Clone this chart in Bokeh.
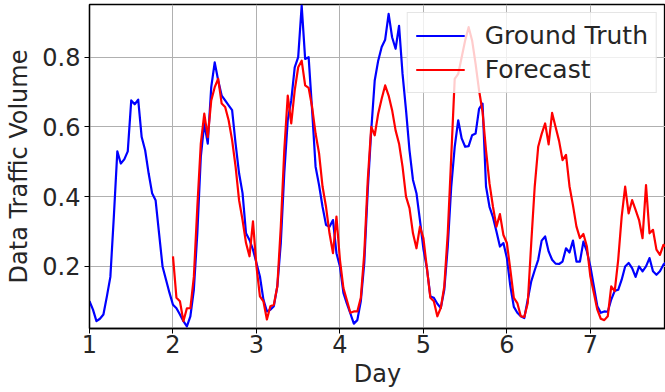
import numpy as np
from bokeh.plotting import figure
from bokeh.models import Range1d, FixedTicker, Legend, LegendItem, ColumnDataSource
from bokeh.embed import file_html
from bokeh.resources import INLINE

# Hourly samples, Ground Truth starts at day 1, Forecast at day 2
blue_day1 = [0.100, 0.076, 0.043, 0.050, 0.062, 0.114, 0.170, 0.343, 0.530, 0.495, 0.507, 0.530,
             0.676, 0.665, 0.678, 0.571, 0.533, 0.467, 0.410, 0.390, 0.295, 0.200, 0.162, 0.124]
blue_day2 = [0.090, 0.080, 0.062, 0.043, 0.028, 0.057, 0.133, 0.295, 0.514, 0.610, 0.552, 0.714,
             0.785, 0.733, 0.690, 0.676, 0.662, 0.648, 0.552, 0.467, 0.410, 0.295, 0.276, 0.248]
blue_day3 = [0.210, 0.171, 0.105, 0.071, 0.076, 0.086, 0.143, 0.267, 0.467, 0.620, 0.676, 0.771,
             0.800, 0.948, 0.795, 0.800, 0.648, 0.486, 0.433, 0.371, 0.319, 0.314, 0.333, 0.238]
blue_day4 = [0.200, 0.124, 0.093, 0.065, 0.036, 0.046, 0.100, 0.210, 0.419, 0.590, 0.733, 0.790,
             0.829, 0.850, 0.924, 0.857, 0.824, 0.890, 0.752, 0.648, 0.533, 0.448, 0.410, 0.333]
blue_day5 = [0.250, 0.195, 0.114, 0.110, 0.093, 0.081, 0.133, 0.257, 0.429, 0.543, 0.619, 0.567,
             0.543, 0.545, 0.576, 0.581, 0.652, 0.667, 0.429, 0.371, 0.341, 0.300, 0.257, 0.267]
blue_day6 = [0.224, 0.143, 0.084, 0.067, 0.057, 0.052, 0.105, 0.157, 0.189, 0.219, 0.274, 0.286,
             0.243, 0.219, 0.208, 0.207, 0.214, 0.252, 0.240, 0.274, 0.214, 0.214, 0.271, 0.243]
blue_day7 = [0.200, 0.143, 0.086, 0.067, 0.071, 0.070, 0.105, 0.130, 0.133, 0.162, 0.200, 0.210,
             0.195, 0.170, 0.200, 0.186, 0.200, 0.224, 0.186, 0.176, 0.186, 0.205, 0.214]

red_day2 = [0.229, 0.110, 0.100, 0.043, 0.080, 0.080, 0.170, 0.370, 0.552, 0.638, 0.571, 0.676,
            0.714, 0.738, 0.667, 0.657, 0.619, 0.562, 0.486, 0.390, 0.333, 0.267, 0.229, 0.329]
red_day3 = [0.200, 0.114, 0.100, 0.048, 0.086, 0.090, 0.143, 0.314, 0.533, 0.690, 0.610, 0.705,
            0.771, 0.790, 0.719, 0.712, 0.657, 0.581, 0.524, 0.429, 0.371, 0.295, 0.238, 0.343]
red_day4 = [0.219, 0.138, 0.103, 0.067, 0.071, 0.071, 0.110, 0.238, 0.448, 0.600, 0.576, 0.638,
            0.681, 0.719, 0.690, 0.648, 0.590, 0.552, 0.486, 0.400, 0.367, 0.295, 0.252, 0.314]
red_day5 = [0.281, 0.195, 0.110, 0.100, 0.057, 0.081, 0.143, 0.295, 0.514, 0.738, 0.752, 0.800,
            0.848, 0.886, 0.848, 0.781, 0.705, 0.643, 0.533, 0.438, 0.371, 0.314, 0.350, 0.290]
red_day6 = [0.267, 0.190, 0.110, 0.095, 0.057, 0.055, 0.095, 0.267, 0.429, 0.543, 0.580, 0.610,
            0.550, 0.640, 0.600, 0.560, 0.505, 0.520, 0.430, 0.375, 0.314, 0.281, 0.293, 0.257]
red_day7 = [0.171, 0.124, 0.076, 0.050, 0.046, 0.057, 0.143, 0.129, 0.219, 0.343, 0.429, 0.352,
            0.390, 0.362, 0.333, 0.281, 0.433, 0.295, 0.305, 0.248, 0.233, 0.262, 0.255]

x_ticks = [1, 2, 3, 4, 5, 6, 7]
y_ticks = [0.2, 0.4, 0.6, 0.8]
series_names = ["Ground Truth", "Forecast"]
blue_start_day = 1
red_start_day = 2
samples_per_day = 24

ground_truth = blue_day1 + blue_day2 + blue_day3 + blue_day4 + blue_day5 + blue_day6 + blue_day7
forecast = red_day2 + red_day3 + red_day4 + red_day5 + red_day6 + red_day7
x_gt = blue_start_day + np.arange(len(ground_truth)) / samples_per_day
x_fc = red_start_day + np.arange(len(forecast)) / samples_per_day

FONT = "DejaVu Sans"

p = figure(width=665, height=392, output_backend="svg", toolbar_location=None,
           x_range=Range1d(1, 7.9), y_range=Range1d(0.022, 0.951), title=None,
           min_border_left=89, min_border_right=0, min_border_top=4, min_border_bottom=64)
p.background_fill_color = "white"
p.border_fill_color = "white"
p.outline_line_color = "black"
p.outline_line_width = 1.3

src_gt = ColumnDataSource(dict(x=x_gt, y=ground_truth))
src_fc = ColumnDataSource(dict(x=x_fc, y=forecast))
r_gt = p.line("x", "y", source=src_gt, line_color="#0000ff", line_width=2.2, line_join="round")
r_fc = p.line("x", "y", source=src_fc, line_color="#ff0000", line_width=2.2, line_join="round")

for ax in (p.xaxis[0], p.yaxis[0]):
    ax.major_label_text_font = FONT
    ax.major_label_text_font_size = "24px"
    ax.major_label_text_color = "#262626"
    ax.axis_label_text_font = FONT
    ax.axis_label_text_font_size = "24px"
    ax.axis_label_text_font_style = "normal"
    ax.axis_label_text_color = "#262626"
    ax.major_tick_out = 5
    ax.major_tick_in = 0
    ax.minor_tick_out = 0
    ax.minor_tick_in = 0
    ax.axis_line_color = "black"
    ax.axis_line_width = 1.3
    ax.major_tick_line_color = "black"

p.xaxis[0].ticker = FixedTicker(ticks=x_ticks)
p.yaxis[0].ticker = FixedTicker(ticks=y_ticks)
p.xaxis[0].major_label_overrides = {t: str(t) for t in x_ticks}
p.yaxis[0].major_label_overrides = {t: f"{t:.1f}" for t in y_ticks}
p.xaxis[0].axis_label = "Day"
p.yaxis[0].axis_label = "Data Traffic Volume"
p.xaxis[0].major_label_standoff = 1
p.xaxis[0].axis_label_standoff = 4
p.yaxis[0].major_label_standoff = 4
p.yaxis[0].axis_label_standoff = 6

p.xgrid.grid_line_color = "#b0b0b0"
p.ygrid.grid_line_color = "#b0b0b0"
p.xgrid.grid_line_width = 1
p.ygrid.grid_line_width = 1

legend = Legend(items=[LegendItem(label=series_names[0], renderers=[r_gt]),
                       LegendItem(label=series_names[1], renderers=[r_fc])],
                location="top_right", margin=8, padding=8, spacing=5,
                glyph_width=49, glyph_height=27, label_standoff=20,
                label_text_font=FONT, label_text_font_size="25px", label_text_color="#262626",
                background_fill_color="white", background_fill_alpha=0.8,
                border_line_color="#cccccc", border_line_width=1)
p.add_layout(legend)

open("out.html", "w").write(file_html(p, INLINE))
